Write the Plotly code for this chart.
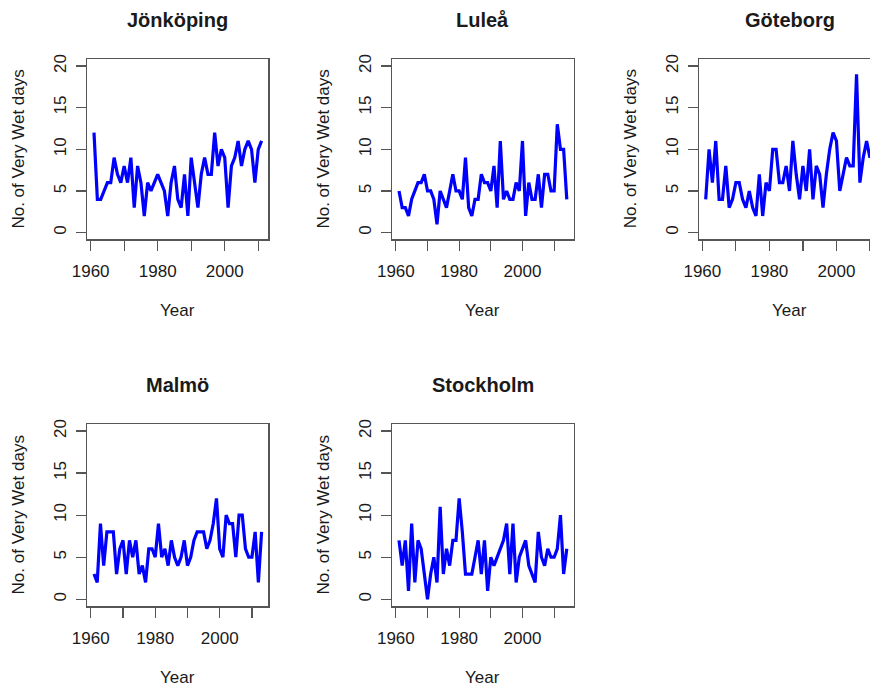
import plotly.graph_objects as go

# ---------------- data ----------------
years_jonkoping = list(range(1961, 2012))
jonkoping = [12, 4, 4, 5, 6, 6, 9, 7, 6, 8, 6, 9, 3, 8, 6, 2, 6, 5, 6, 7,
             6, 5, 2, 6, 8, 4, 3, 7, 2, 9, 6, 3, 7, 9, 7, 7, 12, 8, 10, 9,
             3, 8, 9, 11, 8, 10, 11, 10, 6, 10, 11]

years_lulea = list(range(1961, 2015))
lulea = [5, 3, 3, 2, 4, 5, 6, 6, 7, 5, 5, 4, 1, 5, 4, 3, 5, 7, 5, 5,
         4, 9, 3, 2, 4, 4, 7, 6, 6, 5, 8, 3, 11, 4, 5, 4, 4, 6, 5, 11,
         2, 6, 4, 4, 7, 3, 7, 7, 5, 5, 13, 10, 10, 4]

years_goteborg = list(range(1961, 2012))
goteborg = [4, 10, 6, 11, 4, 4, 8, 3, 4, 6, 6, 4, 3, 5, 3, 2, 7, 2, 6, 5,
            10, 10, 6, 6, 8, 5, 11, 7, 4, 8, 5, 10, 4, 8, 7, 3, 7, 10, 12, 11,
            5, 7, 9, 8, 8, 19, 6, 9, 11, 9, 10]

years_malmo = list(range(1961, 2014))
malmo = [3, 2, 9, 4, 8, 8, 8, 3, 6, 7, 3, 7, 5, 7, 3, 4, 2, 6, 6, 5,
         9, 5, 6, 4, 7, 5, 4, 5, 7, 4, 5, 7, 8, 8, 8, 6, 7, 9, 12, 6,
         5, 10, 9, 9, 5, 10, 10, 6, 5, 5, 8, 2, 8]

years_stockholm = list(range(1961, 2015))
stockholm = [7, 4, 7, 1, 9, 2, 7, 6, 3, 0, 3, 5, 2, 11, 3, 6, 4, 7, 7, 12,
             8, 3, 3, 3, 5, 7, 3, 7, 1, 5, 4, 5, 6, 7, 9, 3, 9, 2, 5, 6,
             7, 4, 3, 2, 8, 5, 4, 6, 5, 5, 6, 10, 3, 6]

titles = ["Jönköping", "Luleå", "Göteborg", "Malmö", "Stockholm"]
x_title = "Year"
y_title = "No. of Very Wet days"
y_ticks = [0, 5, 10, 15, 20]
x_ticks = [1960, 1980, 2000]
x_minor_ticks = [1970, 1990, 2010]

series = [
    (years_jonkoping, jonkoping),
    (years_lulea, lulea),
    (years_goteborg, goteborg),
    (years_malmo, malmo),
    (years_stockholm, stockholm),
]

# ---------------- layout geometry (page pixels) ----------------
W, H = 870, 686
col_px = [(87.3, 268.3), (392.3, 573.5), (699.0, 880.0)]
row_px = [(59.3, 239.3), (424.3, 606.0)]
positions = [(0, 0), (0, 1), (0, 2), (1, 0), (1, 1)]


def px(x):
    return x / W


def py(y):
    return 1 - y / H


FONT = "Liberation Sans, Arial, Helvetica, sans-serif"
TXT = "#1a1a1a"
FRAME = "#555555"
FS = 17

fig = go.Figure()
layout = dict(
    width=W, height=H,
    margin=dict(l=0, r=0, t=0, b=0, pad=0, autoexpand=False),
    paper_bgcolor="white", plot_bgcolor="white",
    showlegend=False,
    font=dict(family=FONT, size=FS, color=TXT),
)
annotations = []

for i, ((yrs, vals), title, (r, c)) in enumerate(zip(series, titles, positions)):
    k = "" if i == 0 else str(i + 1)
    x0, x1 = col_px[c]
    top, bot = row_px[r]
    xd = [max(px(x0), 0.0), min(px(x1), 1.0)]
    yd = [py(bot), py(top)]

    lo, hi = yrs[0], yrs[-1]
    pad = 0.04 * (hi - lo)
    xr = [lo - pad, hi + pad]
    if c == 2:
        # panel is cut off at the right edge of the picture
        vis_px = xd[1] * W - x0
        xr = [lo - pad, lo - pad + (hi - lo + 2 * pad) * vis_px / (x1 - x0)]

    fig.add_trace(go.Scatter(
        x=yrs, y=vals, mode="lines",
        line=dict(color="#0000ff", width=3.2),
        xaxis="x" + k, yaxis="y" + k, hoverinfo="skip",
    ))

    layout["xaxis" + k] = dict(
        domain=xd, range=xr, anchor="y" + k,
        tickmode="array", tickvals=x_ticks,
        ticks="outside", ticklen=10, tickwidth=1.2, tickcolor=FRAME,
        minor=dict(tickmode="array", tickvals=x_minor_ticks,
                   ticks="outside", ticklen=10, tickwidth=1.2, tickcolor=FRAME),
        showline=True, linecolor=FRAME, linewidth=1.5, mirror=True,
        showgrid=False, zeroline=False, automargin=False,
        tickfont=dict(family=FONT, size=FS, color=TXT),
        ticklabelstandoff=6,
    )
    layout["yaxis" + k] = dict(
        domain=yd, range=[-0.8, 20.8], anchor="x" + k,
        tickmode="array", tickvals=y_ticks,
        ticks="outside", ticklen=10, tickwidth=1.2, tickcolor=FRAME,
        showline=True, linecolor=FRAME, linewidth=1.5,
        mirror=(c != 2),
        showgrid=False, zeroline=False, automargin=False,
        tickangle=-90,
        tickfont=dict(family=FONT, size=FS, color=TXT),
        ticklabelstandoff=3,
    )

    cx = x0 + 181.0 / 2.0
    annotations.append(dict(
        text="<b>" + title + "</b>", x=px(cx), y=py(top - 39),
        xref="paper", yref="paper", xanchor="center", yanchor="middle",
        showarrow=False, font=dict(family=FONT, size=20, color=TXT),
    ))
    annotations.append(dict(
        text=x_title, x=px(cx), y=py(bot + 71),
        xref="paper", yref="paper", xanchor="center", yanchor="middle",
        showarrow=False, font=dict(family=FONT, size=FS, color=TXT),
    ))
    annotations.append(dict(
        text=y_title, x=px(x0 - 69), y=py((top + bot) / 2),
        xref="paper", yref="paper", xanchor="center", yanchor="middle",
        textangle=-90,
        showarrow=False, font=dict(family=FONT, size=FS, color=TXT),
    ))

layout["annotations"] = annotations
fig.update_layout(**layout)
# remove the browser's default 8px page margin so the figure fills the window
fig.write_html(
    "out.html",
    config={"displayModeBar": False, "staticPlot": True},
    post_script="document.body.style.margin='0px';",
)
